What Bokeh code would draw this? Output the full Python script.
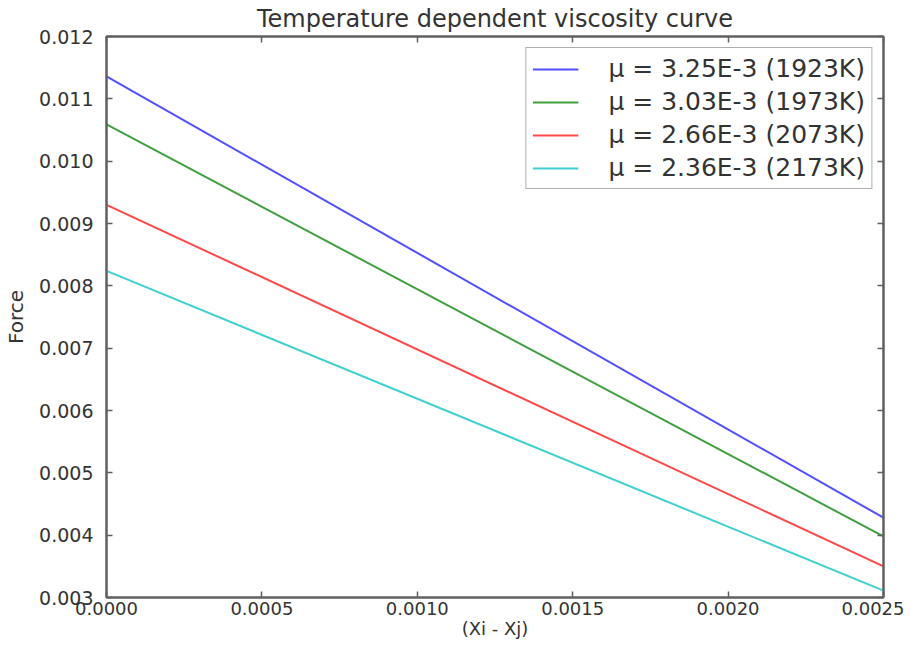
from bokeh.plotting import figure
from bokeh.models import (LinearAxis, Range1d, SingleIntervalTicker, Legend, LegendItem,
                          CustomJSTickFormatter)
from bokeh.embed import file_html
from bokeh.resources import INLINE

# Data (straight lines, endpoints)
x_vals = [0.0, 0.0025]
force_1923 = [0.01136, 0.00428]
force_1973 = [0.01059, 0.00398]
force_2073 = [0.00930, 0.00350]
force_2173 = [0.00824, 0.00311]
labels = ["\u03bc = 3.25E-3 (1923K)", "\u03bc = 3.03E-3 (1973K)",
          "\u03bc = 2.66E-3 (2073K)", "\u03bc = 2.36E-3 (2173K)"]
colors = ["#5050ff", "#40a040", "#ff4848", "#40d0d0"]

FONT = "DejaVu Sans"
TXT = "#333333"
AX = "#606060"

p = figure(width=904, height=641, output_backend="svg", toolbar_location=None,
           x_range=Range1d(0, 0.0025), y_range=Range1d(0.003, 0.012),
           min_border_left=106, min_border_right=21, min_border_top=36, min_border_bottom=44,
           title="Temperature dependent viscosity curve")
p.title.align = "center"
p.title.text_font = FONT
p.title.text_font_size = "24px"
p.title.text_font_style = "normal"
p.title.text_color = TXT
p.title.standoff = 0
p.title.offset = 0

p.grid.visible = False
p.outline_line_color = AX
p.outline_line_width = 2

series = [force_1923, force_1973, force_2073, force_2173]
renderers = []
for ys, c in zip(series, colors):
    r = p.line(x_vals, ys, line_color=c, line_width=2)
    renderers.append(r)

def style(ax):
    ax.axis_line_color = AX
    ax.axis_line_width = 2
    ax.major_tick_line_color = AX
    ax.major_tick_line_width = 1.5
    ax.major_tick_in = 6
    ax.major_tick_out = 0
    ax.minor_tick_line_color = None
    ax.major_label_text_font = FONT
    ax.major_label_text_color = TXT
    ax.axis_label_text_font = FONT
    ax.axis_label_text_color = TXT
    ax.axis_label_text_font_style = "normal"

p.xaxis.ticker = SingleIntervalTicker(interval=0.0005)
p.yaxis.ticker = SingleIntervalTicker(interval=0.001)
style(p.xaxis[0])
style(p.yaxis[0])
p.xaxis.major_label_text_font_size = "18px"
p.yaxis.major_label_text_font_size = "19px"
p.xaxis.major_label_standoff = 0
p.yaxis.major_label_standoff = 9
p.xaxis.axis_label = "(Xi - Xj)"
p.yaxis.axis_label = "Force"
p.xaxis.axis_label_text_font_size = "18px"
p.yaxis.axis_label_text_font_size = "20px"
p.xaxis.axis_label_standoff = 0
p.yaxis.axis_label_standoff = 8
p.xaxis.formatter = CustomJSTickFormatter(code="return tick.toFixed(4);")
p.yaxis.formatter = CustomJSTickFormatter(code="return tick.toFixed(3);")

blank = CustomJSTickFormatter(code="return '';")
top = LinearAxis(ticker=SingleIntervalTicker(interval=0.0005), formatter=blank)
style(top)
top.major_label_standoff = 0
p.add_layout(top, "above")
right = LinearAxis(ticker=SingleIntervalTicker(interval=0.001), formatter=blank)
style(right)
right.major_label_standoff = 0
p.add_layout(right, "right")

legend = Legend(items=[LegendItem(label=l, renderers=[r]) for l, r in zip(labels, renderers)],
                location="top_right")
legend.margin = 11
legend.padding = 6
legend.spacing = 4
legend.label_height = 26
legend.glyph_height = 26
legend.glyph_width = 46
legend.label_standoff = 30
legend.label_text_font = FONT
legend.label_text_font_size = "25px"
legend.label_text_color = TXT
legend.border_line_color = AX
legend.border_line_width = 1.5
legend.background_fill_alpha = 1
p.add_layout(legend, "center")

open("out.html", "w").write(file_html(p, INLINE))
